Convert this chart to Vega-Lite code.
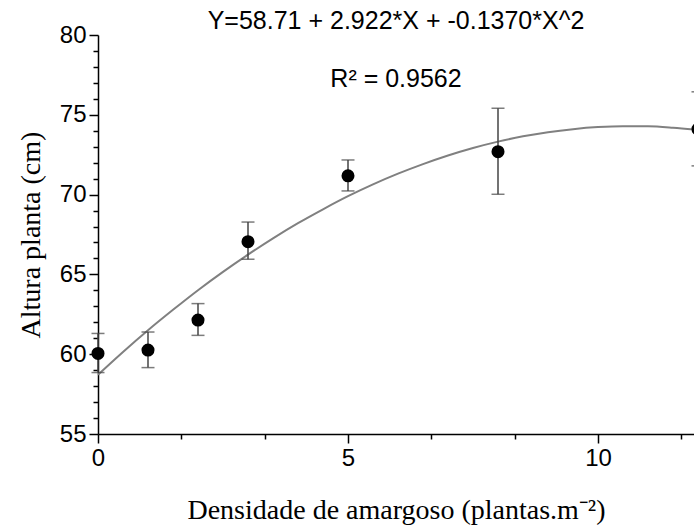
{
  "$schema": "https://vega.github.io/schema/vega-lite/v6.json",
  "width": 596,
  "height": 399,
  "autosize": {"type": "none"},
  "padding": {"left": 98, "top": 35, "right": 0, "bottom": 98},
  "background": "white",
  "title": {
    "text": ["Y=58.71 + 2.922*X + -0.1370*X^2", "R² = 0.9562"],
    "anchor": "middle",
    "frame": "group",
    "font": "Liberation Sans",
    "fontSize": 25,
    "fontWeight": "normal",
    "color": "black",
    "lineHeight": 58,
    "baseline": "top",
    "offset": 0,
    "dy": 69
  },
  "datasets": {
    "curve": [
      {"x": 0, "y": 58.71}, {"x": 0.5, "y": 60.14}, {"x": 1, "y": 61.5}, {"x": 1.5, "y": 62.78},
      {"x": 2, "y": 64.01}, {"x": 2.5, "y": 65.16}, {"x": 3, "y": 66.24}, {"x": 3.5, "y": 67.26},
      {"x": 4, "y": 68.21}, {"x": 4.5, "y": 69.08}, {"x": 5, "y": 69.9}, {"x": 5.5, "y": 70.64},
      {"x": 6, "y": 71.31}, {"x": 6.5, "y": 71.91}, {"x": 7, "y": 72.45}, {"x": 7.5, "y": 72.92},
      {"x": 8, "y": 73.32}, {"x": 8.5, "y": 73.65}, {"x": 9, "y": 73.91}, {"x": 9.5, "y": 74.1},
      {"x": 10, "y": 74.23}, {"x": 10.5, "y": 74.29}, {"x": 11, "y": 74.28}, {"x": 11.5, "y": 74.19},
      {"x": 12, "y": 74.05}
    ],
    "obs": [
      {"x": 0, "y": 60.05, "lo": 58.85, "hi": 61.3},
      {"x": 1, "y": 60.26, "lo": 59.16, "hi": 61.39},
      {"x": 2, "y": 62.14, "lo": 61.18, "hi": 63.17},
      {"x": 3, "y": 67.05, "lo": 65.95, "hi": 68.28},
      {"x": 5, "y": 71.18, "lo": 70.23, "hi": 72.17},
      {"x": 8, "y": 72.69, "lo": 70.02, "hi": 75.41},
      {"x": 12, "y": 74.1, "lo": 71.8, "hi": 76.44}
    ]
  },
  "config": {
    "view": {"stroke": null},
    "axis": {
      "grid": false,
      "domainColor": "black",
      "domainWidth": 1.5,
      "tickColor": "black",
      "tickWidth": 1.5,
      "labelFont": "Liberation Sans",
      "labelFontSize": 24,
      "labelColor": "black",
      "titleFont": "Liberation Serif",
      "titleFontSize": 28,
      "titleFontWeight": "normal",
      "titleColor": "black",
      "labelFlush": false,
      "labelOverlap": false
    }
  },
  "layer": [
    {
      "data": {"name": "curve"},
      "mark": {"type": "line", "color": "#808080", "strokeWidth": 2, "interpolate": "monotone"},
      "encoding": {
        "x": {
          "field": "x", "type": "quantitative",
          "title": "Densidade de amargoso (plantas.m⁻²)",
          "scale": {"domain": [0, 11.92], "nice": false, "zero": false},
          "axis": {
            "values": [0, 1.6667, 3.3333, 5, 6.6667, 8.3333, 10, 11.6667],
            "tickCount": 100,
            "format": "d",
            "labelExpr": "datum.value % 5 == 0 ? datum.label : ''",
            "tickSize": {"condition": {"test": "datum.value % 5 == 0", "value": 9}, "value": 5},
            "labelOverlap": false,
            "labelPadding": 3,
            "titlePadding": 26
          }
        },
        "y": {
          "field": "y", "type": "quantitative",
          "title": "Altura planta (cm)",
          "scale": {"domain": [55, 80], "nice": false, "zero": false},
          "axis": {
            "values": [55, 56, 57, 58, 59, 60, 61, 62, 63, 64, 65, 66, 67, 68, 69, 70, 71, 72, 73, 74, 75, 76, 77, 78, 79, 80],
            "tickCount": 100,
            "format": "d",
            "labelExpr": "datum.value % 5 == 0 ? datum.label : ''",
            "tickSize": {"condition": {"test": "datum.value % 5 == 0", "value": 9}, "value": 5},
            "labelOverlap": false,
            "labelPadding": 3,
            "titlePadding": 14
          }
        }
      }
    },
    {
      "data": {"name": "obs"},
      "mark": {"type": "rule", "color": "#444444", "strokeWidth": 1.5},
      "encoding": {
        "x": {"field": "x", "type": "quantitative", "title": "Densidade de amargoso (plantas.m⁻²)"},
        "y": {"field": "lo", "type": "quantitative", "title": "Altura planta (cm)"},
        "y2": {"field": "hi"}
      }
    },
    {
      "data": {"name": "obs"},
      "mark": {"type": "tick", "orient": "horizontal", "color": "#444444", "size": 13, "thickness": 1.5},
      "encoding": {
        "x": {"field": "x", "type": "quantitative", "title": "Densidade de amargoso (plantas.m⁻²)"},
        "y": {"field": "lo", "type": "quantitative", "title": "Altura planta (cm)"}
      }
    },
    {
      "data": {"name": "obs"},
      "mark": {"type": "tick", "orient": "horizontal", "color": "#444444", "size": 13, "thickness": 1.5},
      "encoding": {
        "x": {"field": "x", "type": "quantitative", "title": "Densidade de amargoso (plantas.m⁻²)"},
        "y": {"field": "hi", "type": "quantitative", "title": "Altura planta (cm)"}
      }
    },
    {
      "data": {"name": "obs"},
      "mark": {"type": "circle", "color": "black", "opacity": 1, "size": 170},
      "encoding": {
        "x": {"field": "x", "type": "quantitative", "title": "Densidade de amargoso (plantas.m⁻²)"},
        "y": {"field": "y", "type": "quantitative", "title": "Altura planta (cm)"}
      }
    }
  ]
}
